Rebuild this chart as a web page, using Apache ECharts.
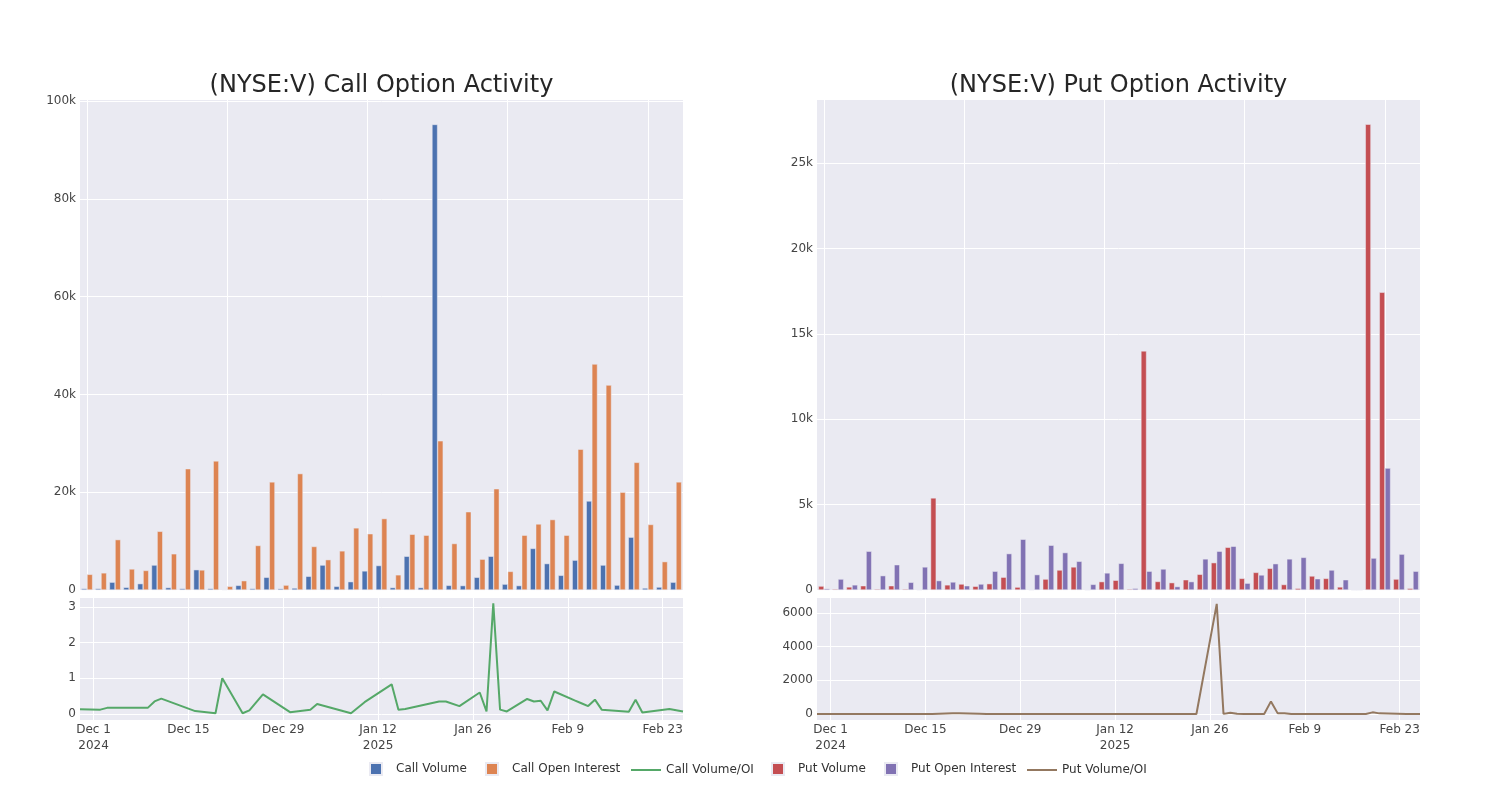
<!DOCTYPE html>
<html>
<head>
<meta charset="utf-8">
<script src="https://cdn.jsdelivr.net/npm/echarts@6/dist/echarts.min.js"></script>
<style>html,body{margin:0;padding:0;background:#fff}#chart{width:1500px;height:800px}</style>
</head>
<body>
<div id="chart"></div>
<script>
// ---- data ----
const dates = ['2024-11-29','2024-12-02','2024-12-03','2024-12-09','2024-12-10','2024-12-11','2024-12-16','2024-12-19','2024-12-20','2024-12-23','2024-12-24','2024-12-26','2024-12-30','2025-01-02','2025-01-03','2025-01-08','2025-01-10','2025-01-14','2025-01-15','2025-01-16','2025-01-21','2025-01-22','2025-01-24','2025-01-27','2025-01-28','2025-01-29','2025-01-30','2025-01-31','2025-02-03','2025-02-04','2025-02-05','2025-02-06','2025-02-07','2025-02-10','2025-02-11','2025-02-12','2025-02-13','2025-02-14','2025-02-18','2025-02-19','2025-02-20','2025-02-24','2025-02-26'];
const callVolume = [300,300,1600,550,1300,5100,500,300,4150,300,80,950,300,2600,280,400,2800,5100,750,1700,3900,5000,500,6900,500,95200,950,900,2600,6900,1200,900,8500,5400,3000,6100,18200,5100,1000,10800,400,600,1600];
const callOI = [3200,3500,10300,4300,4000,12000,7400,24800,4100,26400,750,1900,9100,22100,1000,23800,8900,6200,8000,12700,11500,14600,3100,11400,11200,30500,9500,16000,6300,20700,3800,11200,13500,14400,11200,28800,46200,41900,20000,26100,13400,5800,22100];
const callRatio = [0.13,0.12,0.17,0.17,0.35,0.43,0.08,0.02,1.0,0.02,0.1,0.55,0.05,0.12,0.28,0.02,0.33,0.83,0.12,0.14,0.35,0.35,0.22,0.6,0.07,3.1,0.12,0.07,0.42,0.35,0.37,0.1,0.63,0.38,0.3,0.22,0.4,0.12,0.06,0.4,0.04,0.14,0.07];
const putVolume = [230,60,180,250,60,250,60,20,5390,300,350,220,370,750,170,0,640,1170,1350,0,490,570,60,14000,500,430,600,920,1600,2500,680,1030,1270,320,100,820,680,180,0,27270,17430,640,100];
const putOI = [80,640,300,2270,840,1480,450,1350,550,470,250,350,1100,2130,2970,900,2620,2190,1680,330,1000,1560,100,1100,1230,200,490,1820,2270,2560,400,880,1540,1820,1910,660,1170,600,0,1870,7140,2100,1100];
const putRatio = [0,0,0,0,0,0,0,40,50,20,5,0,0,0,0,0,0,0,0,0,0,0,0,6530,10,80,20,5,5,750,40,50,0,0,0,0,0,0,0,100,40,0,0];
const callTitle = '(NYSE:V) Call Option Activity';
const putTitle = '(NYSE:V) Put Option Activity';
const legendNames = ['Call Volume','Call Open Interest','Call Volume/OI','Put Volume','Put Open Interest','Put Volume/OI'];
const axisStart = '2024-11-29', axisEnd = '2025-02-26', firstTickDay = '2024-12-01';

// calendar-day categories for the date axis of the ratio panels
const dayCats = [];
{
  let t = Date.parse(axisStart + 'T00:00:00Z');
  const end = Date.parse(axisEnd + 'T00:00:00Z');
  while (t <= end) { dayCats.push(new Date(t).toISOString().slice(0, 10)); t += 86400000; }
}
const firstTickIdx = dayCats.indexOf(firstTickDay);
const isDateTick = (i) => i >= firstTickIdx && (i - firstTickIdx) % 14 === 0;
const MONTHS = ['Jan','Feb','Mar','Apr','May','Jun','Jul','Aug','Sep','Oct','Nov','Dec'];
let lastYear = null;
const tickLabel = {};
dayCats.forEach((d, i) => {
  if (!isDateTick(i)) return;
  const y = d.slice(0, 4), m = +d.slice(5, 7), day = +d.slice(8, 10);
  let s = MONTHS[m - 1] + ' ' + day;
  if (y !== lastYear) { s += '\n' + y; lastYear = y; }
  tickLabel[d] = s;
});

const FONT = 'DejaVu Sans';
const BG = '#EAEAF2';
const TXT = '#444';
const kFmt = (step) => (v) => (Math.abs(v % step) > 1e-6 ? '' : (v === 0 ? '0' : (v / 1000) + 'k'));
const intFmt = (step) => (v) => (Math.abs(v % step) > 1e-6 ? '' : String(v));

const gridBase = { show: true, backgroundColor: BG, borderWidth: 0 };
const barAxis = (gi) => ({
  type: 'category', gridIndex: gi, data: dates, boundaryGap: true,
  axisLine: { show: false }, axisTick: { show: false }, axisLabel: { show: false },
  splitLine: { show: true, alignWithLabel: true, interval: (i) => i % 10 === 0, lineStyle: { color: '#fff', width: 1 } }
});
const dateAxis = (gi) => ({
  type: 'category', gridIndex: gi, data: dayCats, boundaryGap: false,
  axisLine: { show: false }, axisTick: { show: false },
  axisLabel: { interval: (i) => isDateTick(i), formatter: (v) => tickLabel[v] || '', color: TXT, fontSize: 12, fontFamily: FONT, margin: 2, lineHeight: 16 },
  splitLine: { show: true, interval: (i) => isDateTick(i), lineStyle: { color: '#fff', width: 1 } }
});
const valAxis = (gi, min, max, step, fmt, useInterval) => {
  const a = {
    type: 'value', gridIndex: gi, min: min, max: max,
    axisLine: { show: false }, axisTick: { show: false },
    axisLabel: { formatter: fmt, color: TXT, fontSize: 12, fontFamily: FONT, margin: 4 },
    splitLine: { show: true, showMinLine: false, showMaxLine: false, lineStyle: { color: '#fff', width: 1 } }
  };
  if (useInterval) a.interval = step; else { a.minInterval = step; a.maxInterval = step; }
  return a;
};
const barStyle = (c) => ({ color: c, borderColor: BG, borderWidth: 0.5 });
const sq = 'path://M0,0L12,0L12,12L0,12Z';
const ln = 'path://M0,0L30,0L30,2L0,2Z';
const legendIcons = [sq, sq, ln, sq, sq, ln];
const legendLeft = [369, 485, 631, 771, 884, 1027];
const legendTop = [762, 762, 764, 762, 762, 764];

const option = {
  animation: false,
  textStyle: { fontFamily: FONT },
  title: [
    { text: callTitle, left: 376.5, textAlign: 'center', top: 69, textStyle: { fontSize: 24, fontWeight: 'normal', color: '#262626', fontFamily: FONT } },
    { text: putTitle, left: 1113.5, textAlign: 'center', top: 69, textStyle: { fontSize: 24, fontWeight: 'normal', color: '#262626', fontFamily: FONT } }
  ],
  legend: legendNames.map((n, i) => ({
    left: legendLeft[i], top: legendTop[i], padding: 0, itemWidth: 30, itemHeight: 12,
    textStyle: { fontSize: 12, color: '#333', fontFamily: FONT },
    data: [{ name: n, icon: legendIcons[i] }]
  })),
  grid: [
    Object.assign({ left: 80, top: 100, width: 603, height: 490 }, gridBase),
    Object.assign({ left: 80, top: 598, width: 603, height: 122 }, gridBase),
    Object.assign({ left: 817, top: 100, width: 603, height: 490 }, gridBase),
    Object.assign({ left: 817, top: 598, width: 603, height: 122 }, gridBase)
  ],
  xAxis: [barAxis(0), dateAxis(1), barAxis(2), dateAxis(3)],
  yAxis: [
    valAxis(0, 0, 100200, 20000, kFmt(20000), true),
    valAxis(1, -0.17, 3.25, 1, intFmt(1), false),
    valAxis(2, 0, 28690, 5000, kFmt(5000), false),
    valAxis(3, -353, 6880, 2000, intFmt(2000), false)
  ],
  series: [
    { name: 'Call Volume', type: 'bar', xAxisIndex: 0, yAxisIndex: 0, data: callVolume, itemStyle: barStyle('#4C72B0'), barGap: '0%', barCategoryGap: '20%' },
    { name: 'Call Open Interest', type: 'bar', xAxisIndex: 0, yAxisIndex: 0, data: callOI, itemStyle: barStyle('#DD8452'), barGap: '0%', barCategoryGap: '20%' },
    { name: 'Call Volume/OI', type: 'line', xAxisIndex: 1, yAxisIndex: 1, showSymbol: false, symbol: 'none',
      data: dates.map((d, i) => [dayCats.indexOf(d), callRatio[i]]), itemStyle: { color: '#55A868' }, lineStyle: { color: '#55A868', width: 2 } },
    { name: 'Put Volume', type: 'bar', xAxisIndex: 2, yAxisIndex: 2, data: putVolume, itemStyle: barStyle('#C44E52'), barGap: '0%', barCategoryGap: '20%' },
    { name: 'Put Open Interest', type: 'bar', xAxisIndex: 2, yAxisIndex: 2, data: putOI, itemStyle: barStyle('#8172B3'), barGap: '0%', barCategoryGap: '20%' },
    { name: 'Put Volume/OI', type: 'line', xAxisIndex: 3, yAxisIndex: 3, showSymbol: false, symbol: 'none',
      data: dates.map((d, i) => [dayCats.indexOf(d), putRatio[i]]), itemStyle: { color: '#937860' }, lineStyle: { color: '#937860', width: 2 } }
  ]
};
const chart = echarts.init(document.getElementById('chart'), null, { renderer: 'canvas' });
chart.setOption(option);
</script>
</body>
</html>
